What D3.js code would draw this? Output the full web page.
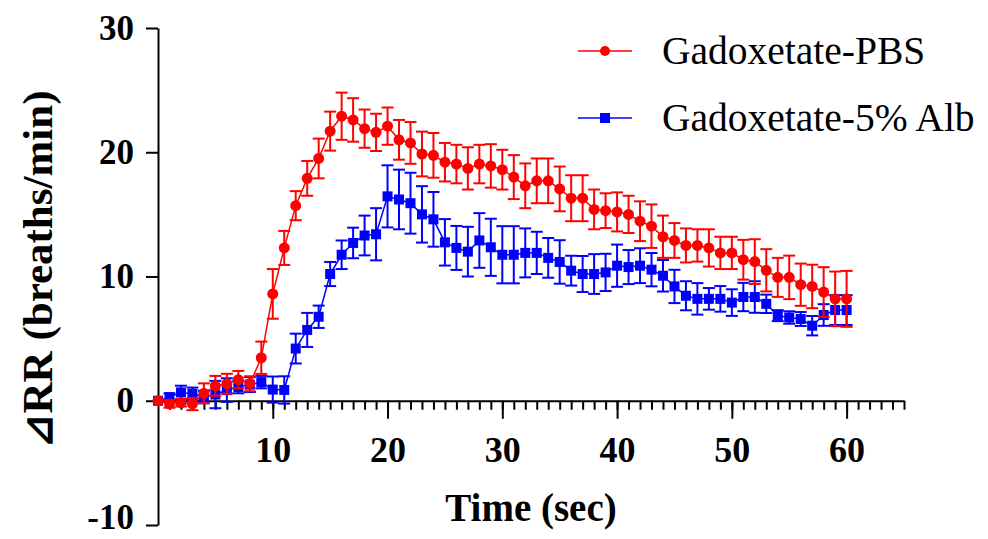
<!DOCTYPE html>
<html>
<head>
<meta charset="utf-8">
<script src="https://cdn.jsdelivr.net/npm/d3@7"></script>
<style>
  body { margin: 0; background: #fff; }
  svg { display: block; }
  .axis path, .axis line { stroke: #000; stroke-width: 2; }
</style>
</head>
<body>
<svg id="chart" width="988" height="539"></svg>
<script>
// time points (sec)
var time = d3.range(0, 61);

// Gadoxetate-PBS mean / SEM
var pbsMean = [0, -0.26, -0.16, -0.26, 0.6, 1.2, 1.37, 1.7, 1.37, 3.46,
  8.6, 12.3, 15.7, 17.9, 19.5, 21.7, 22.9, 22.6, 21.9, 21.6,
  22.1, 21.0, 20.75, 19.86, 19.75, 19.2, 19.05, 18.7, 19.05, 18.9,
  18.6, 18.0, 17.3, 17.7, 17.7, 17.05, 16.3, 16.3, 15.4, 15.3,
  15.2, 15.0, 14.45, 14.05, 13.2, 12.9, 12.5, 12.5, 12.3, 11.9,
  11.9, 11.35, 11.2, 10.5, 9.93, 9.93, 9.34, 9.2, 8.75, 8.2, 8.2];
var pbsErr = [0, 0.3, 0.3, 0.5, 0.8, 0.8, 0.8, 0.7, 0.6, 1.3,
  2.0, 1.37, 1.17, 1.4, 1.6, 1.57, 1.9, 1.75, 1.54, 1.5,
  1.5, 1.6, 1.68, 1.8, 1.8, 1.55, 1.55, 1.7, 1.55, 1.75,
  1.6, 1.77, 1.8, 1.8, 1.8, 1.8, 1.85, 1.85, 1.6, 1.4,
  1.57, 1.5, 1.6, 1.75, 1.7, 1.4, 1.37, 1.3, 1.5, 1.3,
  1.3, 1.6, 1.8, 1.7, 1.57, 1.75, 1.7, 1.75, 2.0, 2.2, 2.25];

// Gadoxetate-5% Alb mean / SEM
var albMean = [0, 0.29, 0.67, 0.56, 0.3, 0.5, 0.86, 1.1, 1.3, 1.5,
  0.9, 0.87, 4.2, 5.7, 6.76, 10.2, 11.75, 12.7, 13.3, 13.4,
  16.45, 16.2, 15.9, 15.0, 14.6, 12.75, 12.3, 12.0, 12.9, 12.35,
  11.75, 11.75, 11.9, 11.9, 11.5, 11.17, 10.47, 10.2, 10.2, 10.33,
  10.87, 10.76, 10.87, 10.55, 10.06, 9.2, 8.45, 8.2, 8.2, 8.2,
  7.9, 8.35, 8.35, 7.8, 6.85, 6.7, 6.58, 6.04, 6.9, 7.3, 7.3];
var albErr = [0, 0.3, 0.54, 0.5, 0.5, 1.1, 0.95, 0.5, 0.6, 0.5,
  1.05, 1.1, 1.2, 1.37, 0.9, 0.97, 1.15, 1.23, 1.6, 2.1,
  2.5, 2.4, 2.45, 2.27, 2.2, 1.87, 1.77, 2.0, 2.2, 2.3,
  2.3, 2.3, 1.97, 1.7, 1.6, 1.75, 1.2, 1.45, 1.6, 1.5,
  1.7, 1.37, 1.4, 1.34, 1.27, 1.34, 1.17, 1.27, 0.87, 1.03,
  1.07, 1.14, 1.27, 0.74, 0.44, 0.5, 0.56, 0.78, 0.87, 1.2, 1.2];

var seriesNames = ["Gadoxetate-PBS", "Gadoxetate-5% Alb"];
var yTicks = [-10, 0, 10, 20, 30];
var xTicks = [10, 20, 30, 40, 50, 60];

var serif = "'Liberation Serif', 'Times New Roman', Times, serif";
var svg = d3.select("#chart");

var x = d3.scaleLinear().domain([0, 65]).range([158, 904]);
var y = d3.scaleLinear().domain([-10, 30]).range([525, 28]);

// y axis
var yAxis = svg.append("g")
  .attr("class", "axis")
  .attr("transform", "translate(" + x(0) + ",0)")
  .call(d3.axisLeft(y).tickValues(yTicks).tickSize(12).tickSizeOuter(0).tickPadding(12)
    .tickFormat(function (d) { return String(d); }));
yAxis.selectAll("text")
  .style("font-family", serif).style("font-weight", "bold").style("font-size", "35px").attr("fill", "#000")
  .attr("dy", function (d) { return d === -10 ? "0.1em" : "0.32em"; });

// x axis: minor ticks then major ones
svg.append("g")
  .attr("class", "axis")
  .attr("transform", "translate(0," + y(0) + ")")
  .call(d3.axisBottom(x).tickValues(d3.range(1, 66)).tickSize(9).tickSizeOuter(0).tickFormat(""));
var xAxis = svg.append("g")
  .attr("class", "axis")
  .attr("transform", "translate(0," + y(0) + ")")
  .call(d3.axisBottom(x).tickValues(xTicks).tickSize(18).tickSizeOuter(0).tickPadding(18));
xAxis.select(".domain").remove();
xAxis.selectAll("text")
  .style("font-family", serif).style("font-weight", "bold").style("font-size", "36px").attr("fill", "#000");

// axis titles
svg.append("text")
  .attr("x", 531).attr("y", 521)
  .attr("text-anchor", "middle")
  .style("font-family", serif)
  .style("font-weight", "bold")
  .style("font-size", "39px")
  .text("Time (sec)");

svg.append("text")
  .attr("transform", "translate(52,270) rotate(-90)")
  .attr("text-anchor", "middle")
  .style("font-family", serif)
  .style("font-weight", "bold")
  .style("font-size", "43px")
  .text("\u22BFRR (breaths/min)");

function drawSeries(mean, err, color, shape) {
  var g = svg.append("g");
  var pts = time.map(function (t, i) { return { t: t, m: mean[i], e: err[i] }; });

  // error bars
  var eb = g.selectAll(".eb").data(pts).enter().append("g")
    .attr("stroke", color).attr("stroke-width", 2);
  eb.append("line")
    .attr("x1", function (d) { return x(d.t); })
    .attr("x2", function (d) { return x(d.t); })
    .attr("y1", function (d) { return y(d.m - d.e); })
    .attr("y2", function (d) { return y(d.m + d.e); });
  eb.filter(function (d) { return d.e > 0.2; }).append("line")
    .attr("x1", function (d) { return x(d.t) - 6; })
    .attr("x2", function (d) { return x(d.t) + 6; })
    .attr("y1", function (d) { return y(d.m + d.e); })
    .attr("y2", function (d) { return y(d.m + d.e); });
  eb.filter(function (d) { return d.e > 0.2; }).append("line")
    .attr("x1", function (d) { return x(d.t) - 6; })
    .attr("x2", function (d) { return x(d.t) + 6; })
    .attr("y1", function (d) { return y(d.m - d.e); })
    .attr("y2", function (d) { return y(d.m - d.e); });

  // connecting line
  g.append("path")
    .datum(pts)
    .attr("fill", "none")
    .attr("stroke", color)
    .attr("stroke-width", 1.5)
    .attr("d", d3.line().x(function (d) { return x(d.t); }).y(function (d) { return y(d.m); }));

  // markers
  if (shape === "circle") {
    g.selectAll(".dot").data(pts).enter().append("circle")
      .attr("cx", function (d) { return x(d.t); })
      .attr("cy", function (d) { return y(d.m); })
      .attr("r", 5.5)
      .attr("fill", color);
  } else {
    g.selectAll(".sq").data(pts).enter().append("rect")
      .attr("x", function (d) { return x(d.t) - 5; })
      .attr("y", function (d) { return y(d.m) - 5; })
      .attr("width", 10).attr("height", 10)
      .attr("fill", color);
  }
}

drawSeries(albMean, albErr, "#0000ff", "square");
drawSeries(pbsMean, pbsErr, "#ff0000", "circle");

// legend
var legend = svg.append("g");
var legColors = ["#ff0000", "#0000ff"];
seriesNames.forEach(function (name, i) {
  var ly = 51 + i * 67;
  legend.append("line")
    .attr("x1", 578).attr("x2", 632).attr("y1", ly).attr("y2", ly)
    .attr("stroke", legColors[i]).attr("stroke-width", 1.5);
  if (i === 0) {
    legend.append("circle").attr("cx", 605).attr("cy", ly).attr("r", 5).attr("fill", legColors[i]);
  } else {
    legend.append("rect").attr("x", 600).attr("y", ly - 5).attr("width", 10).attr("height", 10).attr("fill", legColors[i]);
  }
  legend.append("text")
    .attr("x", 662).attr("y", ly + 13)
    .style("font-family", serif)
    .style("font-size", "39.5px")
    .text(name);
});
</script>
</body>
</html>
